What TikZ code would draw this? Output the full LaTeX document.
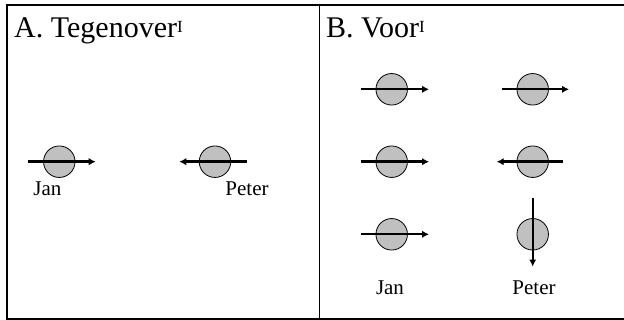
\documentclass[tikz,border=0pt]{standalone}
\usepackage{fontspec}
\setmainfont{Liberation Serif}
\usetikzlibrary{arrows.meta}
\tikzset{
  ball/.style={circle,draw=black,line width=0.8pt,fill={rgb,255:red,192;green,192;blue,192},minimum size=31.5pt,inner sep=0pt},
  arr/.style={line width=2.4pt,-{Latex[length=7pt,width=7.5pt]}},
  varr/.style={line width=2pt,-{Latex[length=7pt,width=7pt]}},
  lbl/.style={anchor=base,inner sep=0pt,font=\fontsize{21}{21}\selectfont},
  ttl/.style={anchor=base west,inner sep=0pt,font=\fontsize{30}{30}\selectfont}
}
\newcommand{\mysupI}{\raisebox{5pt}{\fontsize{17}{17}\selectfont I}}
\begin{document}
\begin{tikzpicture}[x=1pt,y=-1pt]
\useasboundingbox (0,0) rectangle (624,320);
\begin{scope}
\clip (0,0) rectangle (624,320);
\draw[line width=2pt] (6.7,5) rectangle (626,318.8);
\end{scope}
\draw[line width=1pt] (319.5,5) -- (319.5,318.8);
% titles
\node[ttl] (tA) at (14,38) {A. Tegenover\mysupI};
\node[ttl] (tB) at (326,38) {B. Voor\mysupI};
% panel A
\node[ball] (aj) at (59.3,161.7) {};
\node[ball] (ap) at (215,161.7) {};
\coordinate (ajs) at (28,161.7); \coordinate (aje) at (95.7,161.7);
\coordinate (aps) at (246.7,161.7); \coordinate (ape) at (179.3,161.7);
\draw[arr] (ajs) -- (aje);
\draw[arr] (aps) -- (ape);
\node[lbl] (ljA) at (47.4,195.7) {Jan};
\node[lbl] (lpA) at (247,195.7) {Peter};
% panel B
\node[ball] (b11) at (391.7,89.3) {};
\node[ball] (b12) at (532.7,89.3) {};
\node[ball] (b21) at (391.7,161.7) {};
\node[ball] (b22) at (532.7,161.7) {};
\node[ball] (b31) at (391.7,234.3) {};
\node[ball] (b32) at (532.7,234.3) {};
\coordinate (s11) at (360.7,89.3); \coordinate (e11) at (429,89.3);
\coordinate (s12) at (501.7,89.3); \coordinate (e12) at (569,89.3);
\coordinate (s21) at (360.7,161.7); \coordinate (e21) at (429,161.7);
\coordinate (s22) at (563.3,161.7); \coordinate (e22) at (496.7,161.7);
\coordinate (s31) at (360.7,234.3); \coordinate (e31) at (429,234.3);
\coordinate (s32) at (532.7,198.3); \coordinate (e32) at (532.7,266.7);
\draw[arr] (s11) -- (e11);
\draw[arr] (s12) -- (e12);
\draw[arr] (s21) -- (e21);
\draw[arr] (s22) -- (e22);
\draw[arr] (s31) -- (e31);
\draw[varr] (s32) -- (e32);
\node[lbl] (ljB) at (390,295) {Jan};
\node[lbl] (lpB) at (534,295) {Peter};
\end{tikzpicture}
\end{document}
